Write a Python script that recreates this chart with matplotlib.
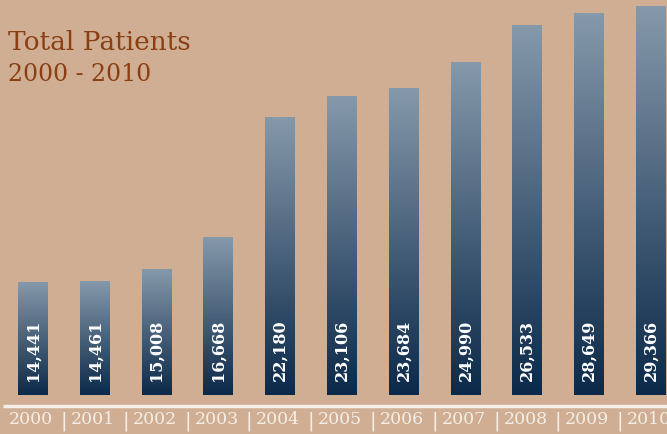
import numpy as np
import matplotlib.pyplot as plt
from matplotlib.colors import LinearSegmentedColormap

# Chart data
years = ['2000', '2001', '2002', '2003', '2004', '2005', '2006', '2007', '2008', '2009', '2010']
patients = [14441, 14461, 15008, 16668, 22180, 23106, 23684, 24990, 26533, 28649, 29366]
# bar heights as drawn in the original (not proportional to the labels)
bar_heights = [113, 114, 126, 158, 278, 299, 307, 333, 370, 382, 389]

bg = '#CFAE93'
title_col = '#8B3F12'
grad = LinearSegmentedColormap.from_list('bar_grad', ['#0B2949', '#8699AB'])

fig = plt.figure(figsize=(6.67, 4.34), dpi=100, facecolor=bg)
ax = fig.add_axes([0, 0, 1, 1])
ax.set_facecolor(bg)
ax.set_xlim(-0.534, 10.26)
ax.set_ylim(-39, 395)
ax.axis('off')

width = 0.485
ramp = np.linspace(0, 1, 256).reshape(-1, 1)
for i, (h, v) in enumerate(zip(bar_heights, patients)):
    ax.imshow(ramp, cmap=grad, origin='lower', aspect='auto', interpolation='bilinear',
              extent=[i - width / 2, i + width / 2, 0, h], zorder=2)
    ax.text(i, 14, f'{v:,}', rotation=90, ha='center', va='bottom', color='white',
            fontsize=11.5, fontweight='bold', family='DejaVu Serif', zorder=3)

# base line and year labels
ax.plot([-0.48, 10.3], [-11, -11], color='#F4EEE8', lw=2.5, solid_capstyle='butt', zorder=3)
for i, yr in enumerate(years):
    ax.text(i - 0.03, -25, yr, ha='center', va='center', color='#F4EEE8',
            fontsize=12.5, family='DejaVu Serif')
    if i > 0:
        ax.text(i - 0.5, -26, '|', ha='center', va='center', color='#F4EEE8',
                fontsize=14, family='DejaVu Sans')

ax.text(-0.405, 345, 'Total Patients', ha='left', va='baseline', color=title_col,
        fontsize=19, family='DejaVu Serif')
ax.text(-0.405, 314, '2000 - 2010', ha='left', va='baseline', color=title_col,
        fontsize=17, family='DejaVu Serif')

fig.savefig('out.png', dpi=100, facecolor=bg)
